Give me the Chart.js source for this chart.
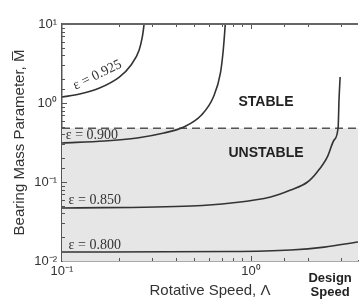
<!DOCTYPE html>
<html>
<head>
<meta charset="utf-8">
<script src="https://cdn.jsdelivr.net/npm/chart.js@4.4.0/dist/chart.umd.min.js"></script>
<style>
  html, body { margin: 0; padding: 0; background: #fff; }
  #wrap { width: 361px; height: 301px; }
</style>
</head>
<body>
<div id="wrap"><canvas id="chart" width="361" height="301"></canvas></div>
<script>
// Dades llegides del gràfic (eixos logarítmics)
const curve925X = [0.1, 0.124, 0.158, 0.201, 0.232, 0.256, 0.266, 0.272];
const curve925Y = [1.19, 1.30, 1.55, 2.13, 3.03, 4.69, 6.85, 10];
const curve900X = [0.1, 0.168, 0.250, 0.346, 0.441, 0.547, 0.632, 0.689, 0.713, 0.731];
const curve900Y = [0.312, 0.330, 0.361, 0.417, 0.497, 0.705, 1.19, 2.40, 4.69, 10];
const curve850X = [0.1, 0.485, 0.785, 1.27, 1.62, 1.99, 2.24, 2.53, 2.75, 2.89, 2.92, 2.96];
const curve850Y = [0.0469, 0.0497, 0.0542, 0.0646, 0.0792, 0.1, 0.134, 0.207, 0.340, 0.497, 1.09, 2.13];
const curve800X = [0.1, 0.785, 1.62, 2.44, 3.68];
const curve800Y = [0.0130, 0.0132, 0.0138, 0.0150, 0.0174];
const boundaryX = [0.1, 3.68];
const boundaryY = [0.48, 0.48];

const xTickValues = [0.1, 1];
const xTickLabels = ['10\u207B\u00B9', '10\u2070'];
const yTickValues = [0.01, 0.1, 1, 10];
const yTickLabels = ['10\u207B\u00B2', '10\u207B\u00B9', '10\u2070', '10\u00B9'];

const epsLabels = ['\u03B5 = 0.925', '\u03B5 = 0.900', '\u03B5 = 0.850', '\u03B5 = 0.800'];
const epsLabelX = [0.154, 0.144, 0.149, 0.149];
const epsLabelY = [2.26, 0.394, 0.0592, 0.0159];
const regionLabels = ['STABLE', 'UNSTABLE'];
const regionLabelX = [1.20, 1.20];
const regionLabelY = [1.03, 0.233];
const designLabel = ['Design', 'Speed'];
const designLabelX = 2.62;

const INK = '#333';

function pts(xs, ys) {
    return xs.map((x, i) => ({ x: x, y: ys[i] }));
}

function tickText(values, labels) {
    return (v) => {
        const i = values.findIndex(t => Math.abs(Math.log10(t) - Math.log10(v)) < 1e-6);
        return i >= 0 ? labels[i] : '';
    };
}

function curve(xs, ys) {
    return {
        data: pts(xs, ys),
        borderColor: INK,
        borderWidth: 1.6,
        pointRadius: 0,
        fill: false,
        cubicInterpolationMode: 'monotone',
        order: 1
    };
}

// Marques interiors dels eixos, línia superior i textos
const extras = {
    id: 'extras',
    afterDatasetsDraw(chart) {
        const { ctx, chartArea: a, scales: { x, y } } = chart;
        ctx.save();
        ctx.strokeStyle = '#555';
        ctx.lineWidth = 1;
        const isMajor = v => Math.abs(Math.log10(v) - Math.round(Math.log10(v))) < 1e-6;
        x.ticks.forEach(t => {
            const px = Math.round(x.getPixelForValue(t.value)) + 0.5;
            if (px <= a.left + 1 || px >= a.right - 1) return;
            const len = isMajor(t.value) ? 5 : 3;
            ctx.beginPath();
            ctx.moveTo(px, a.bottom); ctx.lineTo(px, a.bottom - len);
            ctx.moveTo(px, a.top); ctx.lineTo(px, a.top + len);
            ctx.stroke();
        });
        y.ticks.forEach(t => {
            const py = Math.round(y.getPixelForValue(t.value)) + 0.5;
            if (py <= a.top + 1 || py >= a.bottom - 1) return;
            const len = isMajor(t.value) ? 5 : 3;
            ctx.beginPath();
            ctx.moveTo(a.left, py); ctx.lineTo(a.left + len, py);
            ctx.stroke();
        });
        // línia superior del marc
        ctx.strokeStyle = '#666';
        ctx.lineWidth = 2;
        ctx.beginPath();
        ctx.moveTo(a.left, a.top); ctx.lineTo(a.right, a.top);
        ctx.stroke();

        // etiquetes epsilon
        ctx.fillStyle = INK;
        ctx.font = '14px "Liberation Serif", "DejaVu Serif", serif';
        ctx.textAlign = 'center';
        ctx.textBaseline = 'middle';
        epsLabels.forEach((s, i) => {
            const px = x.getPixelForValue(epsLabelX[i]);
            const py = y.getPixelForValue(epsLabelY[i]);
            ctx.save();
            ctx.translate(px, py);
            if (i === 0) ctx.rotate(-26 * Math.PI / 180);
            ctx.fillText(s, 0, 0);
            ctx.restore();
        });

        // regions
        ctx.fillStyle = '#222';
        ctx.font = 'bold 14px "Liberation Sans", Arial, sans-serif';
        regionLabels.forEach((s, i) => {
            ctx.fillText(s, x.getPixelForValue(regionLabelX[i]), y.getPixelForValue(regionLabelY[i]));
        });

        // Design Speed sota l'eix
        ctx.font = 'bold 13px "Liberation Sans", Arial, sans-serif';
        const dx = x.getPixelForValue(designLabelX);
        ctx.fillText(designLabel[0], dx, a.bottom + 17);
        ctx.fillText(designLabel[1], dx, a.bottom + 31);
        ctx.restore();
    }
};

const ctx = document.getElementById('chart').getContext('2d');
const chart = new Chart(ctx, {
    type: 'line',
    data: {
        datasets: [
            curve(curve925X, curve925Y),
            curve(curve900X, curve900Y),
            curve(curve850X, curve850Y),
            curve(curve800X, curve800Y),
            {
                data: pts(boundaryX, boundaryY),
                borderColor: '#555',
                borderWidth: 1.5,
                borderDash: [8, 5],
                backgroundColor: '#e6e6e6',
                pointRadius: 0,
                fill: 'start',
                order: 10
            }
        ]
    },
    options: {
        responsive: false,
        animation: false,
        devicePixelRatio: 1,
        layout: { padding: { top: 24, right: 0, bottom: 0, left: 0 } },
        plugins: {
            legend: { display: false },
            tooltip: { enabled: false }
        },
        scales: {
            x: {
                type: 'logarithmic',
                min: 0.1,
                max: 3.68,
                afterFit: (s) => { s.height = 40; },
                grid: { display: false, drawTicks: false },
                border: { display: true, color: '#555', width: 1.5 },
                ticks: {
                    autoSkip: false,
                    maxRotation: 0,
                    padding: 3,
                    color: INK,
                    font: { family: '"Liberation Sans", Arial, sans-serif', size: 13 },
                    callback: tickText(xTickValues, xTickLabels)
                },
                title: {
                    display: true,
                    text: 'Rotative Speed, \u039B',
                    color: INK,
                    font: { family: '"Liberation Sans", Arial, sans-serif', size: 15 },
                    padding: { top: 0, bottom: 1 }
                }
            },
            y: {
                type: 'logarithmic',
                min: 0.01,
                max: 10,
                afterFit: (s) => { s.width = 62; },
                grid: { display: false, drawTicks: false },
                border: { display: true, color: '#555', width: 1.5 },
                ticks: {
                    autoSkip: false,
                    padding: 5,
                    color: INK,
                    font: { family: '"Liberation Sans", Arial, sans-serif', size: 13 },
                    callback: tickText(yTickValues, yTickLabels)
                },
                title: {
                    display: true,
                    text: 'Bearing Mass Parameter, M\u0305',
                    color: INK,
                    font: { family: '"Liberation Sans", Arial, sans-serif', size: 15 },
                    padding: { top: 11, bottom: 0 }
                }
            }
        }
    },
    plugins: [extras]
});
</script>
</body>
</html>
